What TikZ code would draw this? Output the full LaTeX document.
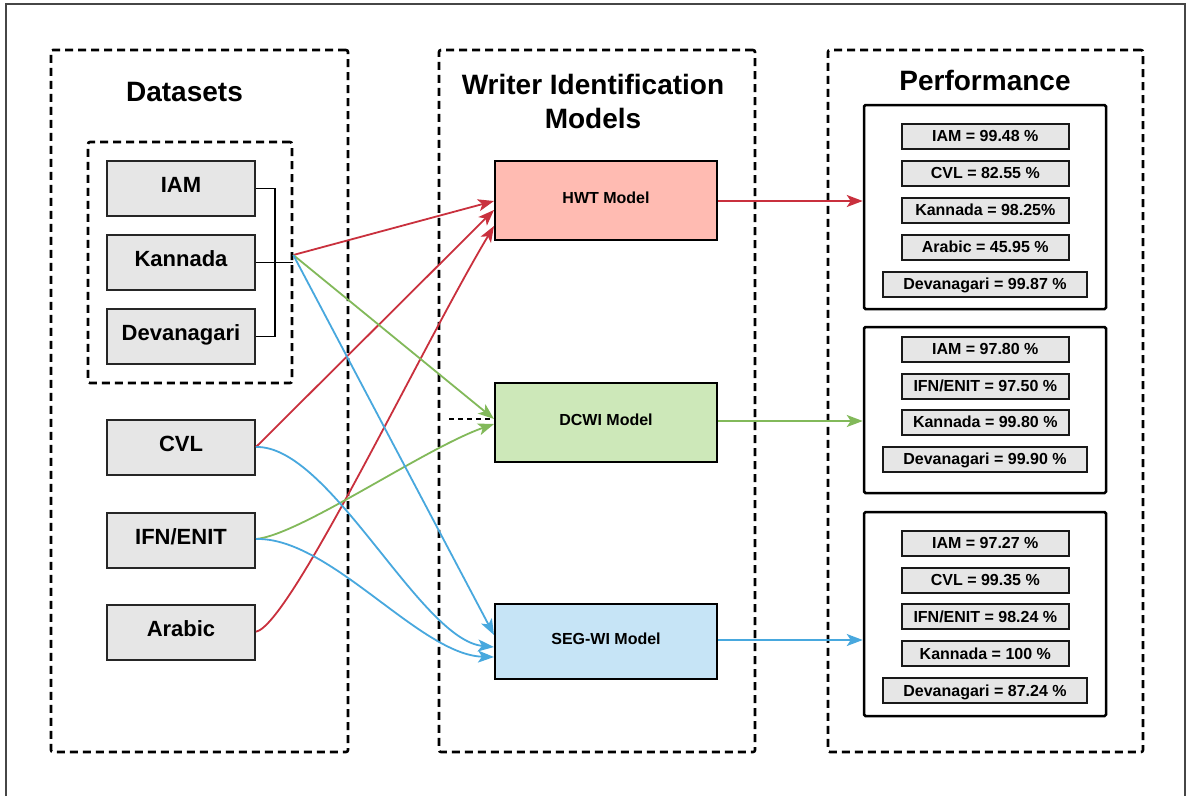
\documentclass[tikz,border=0pt]{standalone}
\usepackage{fontspec}
\setmainfont{Liberation Sans}
\usetikzlibrary{arrows.meta,calc}

\definecolor{linkred}{RGB}{201,48,61}
\definecolor{linkgreen}{RGB}{130,185,90}
\definecolor{linkblue}{RGB}{72,168,222}
\definecolor{hwtfill}{RGB}{255,187,178}
\definecolor{dcwifill}{RGB}{205,232,185}
\definecolor{segfill}{RGB}{198,228,246}
\definecolor{cellfill}{RGB}{230,230,230}
\definecolor{framegray}{RGB}{70,70,70}

\tikzset{
  panel/.style={draw=black, line width=2.6pt, dash pattern=on 8pt off 5pt,
    rounded corners=2pt, inner sep=0pt},
  paneltitle/.style={font=\bfseries\fontsize{28}{34}\selectfont, anchor=base, inner sep=0pt},
  dsbox/.style={draw=black!85, line width=2pt, fill=cellfill, inner sep=0pt,
    minimum width=148pt, minimum height=55pt,
    font=\bfseries\fontsize{22}{26}\selectfont, text height=12pt, text depth=4pt},
  modelbox/.style={draw=black, line width=2pt, inner sep=0pt,
    minimum width=222pt, font=\bfseries\fontsize{16}{19}\selectfont,
    text height=11pt, text depth=5pt},
  resultbox/.style={draw=black, line width=2.5pt, fill=white, rounded corners=1.5pt,
    minimum width=242pt, inner sep=0pt},
  cell/.style={draw=black!90, line width=2pt, fill=cellfill, inner sep=0pt,
    minimum height=25pt, minimum width=167pt,
    font=\bfseries\fontsize{16}{19}\selectfont, text height=11.4pt, text depth=0pt},
  widecell/.style={cell, minimum width=204pt},
  link/.style={line width=1.8pt, -{Stealth[length=16pt,width=12pt,inset=4pt]}},
  redlink/.style={link, draw=linkred},
  greenlink/.style={link, draw=linkgreen},
  bluelink/.style={link, draw=linkblue},
}

\begin{document}
\begin{tikzpicture}[x=1pt, y=-1pt]
\useasboundingbox (0,0) rectangle (1192,796);
\fill[white] (0,0) rectangle (1192,796);
\draw[framegray, line width=1.2pt] (6,796) -- (6,4) -- (1185,4) -- (1185,796);

% three panels
\node[panel, minimum width=297pt, minimum height=702pt] (dspanel) at (199.5,401) {};
\node[panel, minimum width=316pt, minimum height=702pt] (mdpanel) at (597,401) {};
\node[panel, minimum width=315pt, minimum height=702pt] (pfpanel) at (985.5,401) {};

\node[paneltitle] (dstitle) at (184.5,101.5) {Datasets};
\node[paneltitle] (mdtitle) at (593,94) {Writer Identification};
\node[paneltitle] (mdtitleb) at (593,128) {Models};
\node[paneltitle] (pftitle) at (985,90) {Performance};

% datasets
\node[panel, minimum width=204pt, minimum height=241pt] (grp) at (190,262.5) {};
\node[dsbox] (iam) at (181,188.5) {IAM};
\node[dsbox] (kan) at (181,262.5) {Kannada};
\node[dsbox] (dev) at (181,336.5) {Devanagari};
\node[dsbox] (cvl) at (181,447) {CVL};
\node[dsbox] (ifn) at (181,540) {IFN/ENIT};
\node[dsbox] (ara) at (181,632) {Arabic};

\draw[black, line width=1.8pt] (iam.east) -- ++(19,0) |- (dev.east);
\draw[black, line width=1.8pt] (kan.east) -- (kan.east -| grp.east);
\coordinate (gout) at ([yshift=7.5pt]grp.east);

% models
\node[modelbox, fill=hwtfill, minimum height=79pt] (hwt) at (606,200.5) {HWT Model};
\node[modelbox, fill=dcwifill, minimum height=79pt] (dcwi) at (606,422.5) {DCWI Model};
\node[modelbox, fill=segfill, minimum height=75pt] (seg) at (606,641.5) {SEG-WI Model};

% results
\node[resultbox, minimum height=204pt] (res1) at (985,207) {};
\node[cell] (r1a) at (985.3,136) {IAM = 99.48 \%};
\node[cell] (r1b) at (985.3,173) {CVL = 82.55 \%};
\node[cell] (r1c) at (985.3,210) {Kannada = 98.25\%};
\node[cell] (r1d) at (985.3,247) {Arabic = 45.95 \%};
\node[widecell] (r1e) at (985,284) {Devanagari = 99.87 \%};

\node[resultbox, minimum height=166pt] (res2) at (985,410) {};
\node[cell] (r2a) at (985.3,349) {IAM = 97.80 \%};
\node[cell] (r2b) at (985.3,386) {IFN/ENIT = 97.50 \%};
\node[cell] (r2c) at (985.3,422) {Kannada = 99.80 \%};
\node[widecell] (r2d) at (985,459) {Devanagari = 99.90 \%};

\node[resultbox, minimum height=204pt] (res3) at (985,614) {};
\node[cell] (r3a) at (985.3,543) {IAM = 97.27 \%};
\node[cell] (r3b) at (985.3,580) {CVL = 99.35 \%};
\node[cell] (r3c) at (985.3,616.5) {IFN/ENIT = 98.24 \%};
\node[cell] (r3d) at (985.3,653.5) {Kannada = 100 \%};
\node[widecell] (r3e) at (985,690.5) {Devanagari = 87.24 \%};

% dataset -> model links
\coordinate (dcwistub) at (449,419);
\draw[black, line width=1.5pt, dash pattern=on 5pt off 4pt] (dcwistub) -- ([yshift=3.5pt]dcwi.west);

\draw[redlink] (gout) -- ([yshift=-0.5pt]hwt.west);
\draw[redlink] (cvl.east) -- ([yshift=-9.5pt]hwt.west);
\draw[redlink] ([yshift=0.3pt]ara.east) .. controls (290,625) and (420,350) .. ([yshift=-25.5pt]hwt.west);

\draw[greenlink] (gout) -- ([yshift=3.5pt]dcwi.west);
\draw[greenlink] ([yshift=1pt]ifn.east) .. controls (300,535) and (425,448) .. ([yshift=-1.5pt]dcwi.west);

\draw[bluelink] (gout) -- ([yshift=6.5pt]seg.west);
\draw[bluelink] (cvl.east) .. controls (330,445) and (420,640) .. ([yshift=-5.5pt]seg.west);
\draw[bluelink] ([yshift=1pt]ifn.east) .. controls (330,537) and (420,655) .. ([yshift=-15.5pt]seg.west);

% model -> result links
\draw[redlink] ([yshift=-0.5pt]hwt.east) -- ([yshift=-0.5pt]hwt.east -| res1.west);
\draw[greenlink] ([yshift=1.5pt]dcwi.east) -- ([yshift=1.5pt]dcwi.east -| res2.west);
\draw[bluelink] ([yshift=1.5pt]seg.east) -- ([yshift=1.5pt]seg.east -| res3.west);
\end{tikzpicture}
\end{document}
